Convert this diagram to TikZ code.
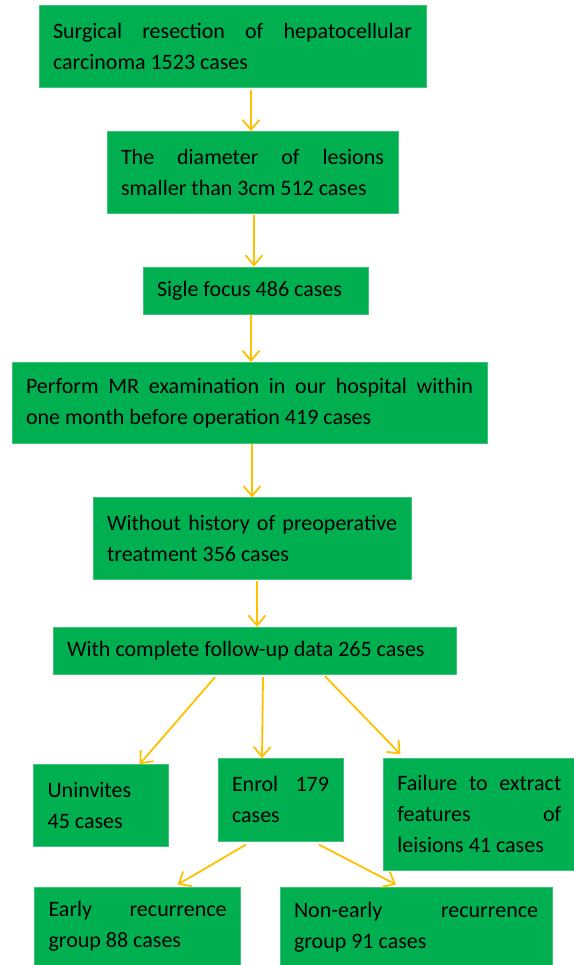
\documentclass[tikz,border=0pt]{standalone}
\usepackage{fontspec}
\setmainfont{Carlito}
\usepackage{tikz}
\usetikzlibrary{positioning, arrows.meta}
\definecolor{boxgreen}{HTML}{00B050}
\definecolor{arroworange}{HTML}{FFC000}

\begin{document}
\begin{tikzpicture}[
    >={Straight Barb[length=10pt,width=17pt]},
    box/.style={fill=boxgreen, draw=boxgreen!75!white, inner xsep=14pt, inner ysep=0pt,
        align=flush left, font=\fontsize{22}{31}\selectfont},
    arrow/.style={->, line width=1.8pt, arroworange}
]
\useasboundingbox (0,0) rectangle (573pt,-965pt);

% Oben: alle Resektionen
\node[box, text width=359pt, minimum height=82pt] (resection) at (232.5pt,-46pt) {
    Surgical\hfill resection\hfill of\hfill hepatocellular\\
    carcinoma 1523 cases
};

% Durchmesser
\node[box, text width=263pt, minimum height=82pt, below=44pt of resection, xshift=20pt] (diameter) {
    The\hfill diameter\hfill of\hfill lesions\\
    smaller than 3cm 512 cases
};
\draw[arrow] ([xshift=18.5pt,yshift=-3pt]resection.south) -- ([xshift=-1.5pt]diameter.north);

% Einzelherd
\node[box, text width=197pt, minimum height=47pt, below=53pt of diameter, xshift=3pt] (focus) {
    Sigle focus 486 cases
};
\draw[arrow] ([xshift=1.5pt,yshift=-1pt]diameter.south) -- ([xshift=-1.5pt]focus.north);

% MR-Untersuchung
\node[box, text width=447pt, minimum height=81pt, below=48pt of focus, xshift=-6pt] (mrexam) {
    Perform\hfill MR\hfill examination\hfill in\hfill our\hfill hospital\hfill within\\
    one month before operation 419 cases
};
\draw[arrow] ([xshift=-4.5pt,yshift=-1pt]focus.south) -- ([xshift=1.5pt]mrexam.north);

% ohne Vorbehandlung
\node[box, text width=290pt, minimum height=82pt, below=54pt of mrexam, xshift=2.5pt] (pretreat) {
    Without\hfill history\hfill of\hfill preoperative\\
    treatment 356 cases
};
\draw[arrow] ([xshift=2.5pt,yshift=-1pt]mrexam.south) -- (pretreat.north);

% Nachsorge
\node[box, text width=375pt, minimum height=47pt, below=47pt of pretreat, xshift=2.5pt] (followup) {
    With complete follow-up data 265 cases
};
\draw[arrow] ([xshift=5pt,yshift=-1pt]pretreat.south) -- ([xshift=2.5pt]followup.north);

% Mitte: eingeschlossen
\node[box, text width=97pt, minimum height=83pt, below=84pt of followup, xshift=26pt] (enrol) {
    Enrol\hfill 179\\
    cases
};
\draw[arrow] ([xshift=8.5pt,yshift=-3pt]followup.south) -- ([xshift=-18.5pt]enrol.north);

% Links: nicht eingeladen
\node[box, text width=107pt, minimum height=82pt, left=49pt of enrol, yshift=-5.5pt] (uninvited) {
    Uninvites\\
    45 cases
};
\draw[arrow] ([xshift=-39.5pt,yshift=-3pt]followup.south) -- ([xshift=38.5pt]uninvited.north);

% Rechts: Merkmale fehlen
\node[box, text width=164pt, minimum height=112pt, right=40pt of enrol, yshift=-14.5pt] (failure) {
    Failure\hfill to\hfill extract\\
    features\hfill of\\
    leisions 41 cases
};
\draw[arrow] ([xshift=70.5pt,yshift=-2pt]followup.south) -- ([xshift=-79pt,yshift=4pt]failure.north);

% Unten links: Fruehrezidiv
\node[box, text width=178pt, minimum height=79pt, below=40pt of uninvited, xshift=36.5pt] (early) {
    Early\hfill recurrence\\
    group 88 cases
};
\draw[arrow] ([xshift=-34.5pt,yshift=-3pt]enrol.south) -- ([xshift=40pt,yshift=2pt]early.north);

% Unten rechts: kein Fruehrezidiv
\node[box, text width=244pt, minimum height=81pt, right=39pt of early, yshift=-1pt] (nonearly) {
    Non-early\hfill recurrence\\
    group 91 cases
};
\draw[arrow] ([xshift=38.5pt,yshift=-3pt]enrol.south) -- ([xshift=-20pt,yshift=2pt]nonearly.north);

\end{tikzpicture}
\end{document}
